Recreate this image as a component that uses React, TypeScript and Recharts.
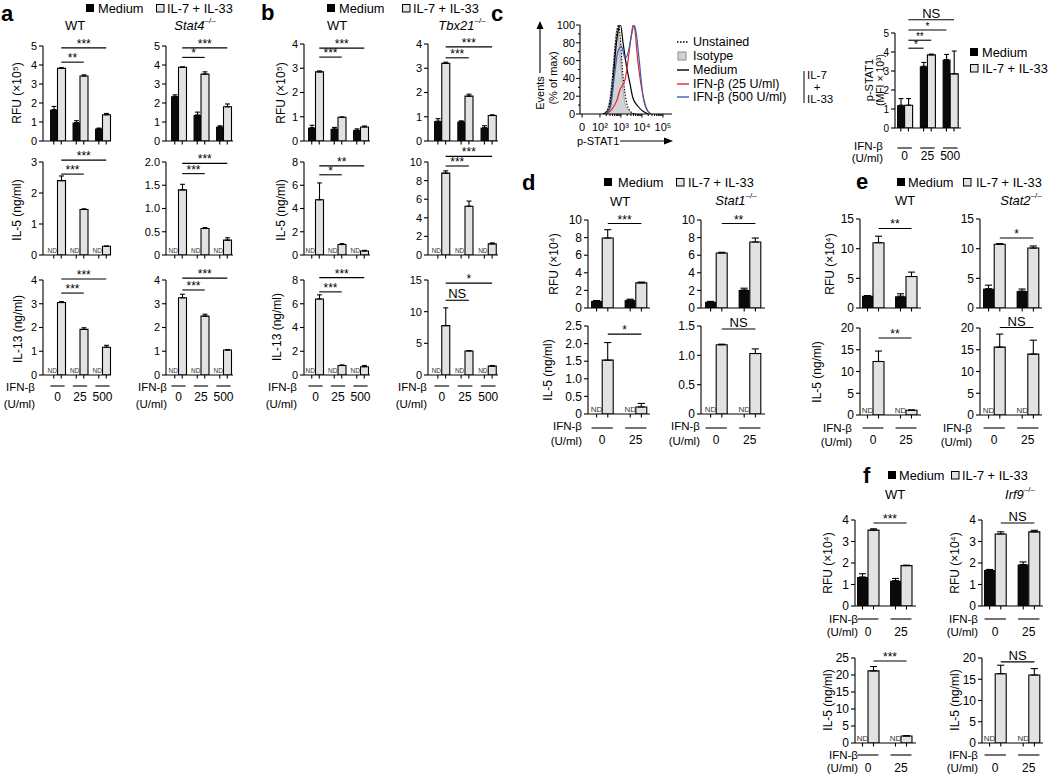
import React from "react";
import {
  BarChart, Bar, XAxis, YAxis, ErrorBar, Cell, ReferenceLine,
  ComposedChart, Line, Area,
} from "recharts";

const FONT = '"Liberation Sans", Arial, Helvetica, sans-serif';
const LIGHT = "#e2e2e2";
const RED = "#e3262e";
const BLUE = "#3d5fae";

// dose labels under the groups
const doses3 = ["0", "25", "500"];
const doses2 = ["0", "25"];
const nd3 = [null, null, null];
const nd2 = [null, null];

type Sig = [string, string, string, number];

// ---- panel a, WT ----
const aWtRfuMed = [1.65, 0.97, 0.65];
const aWtRfuMedSem = [0.17, 0.1, 0.03];
const aWtRfuIl = [3.82, 3.42, 1.38];
const aWtRfuIlSem = [0.04, 0.06, 0.07];
const aWtRfuSig: Sig[] = [["**", "l0", "l1", 4.15], ["***", "l0", "l2", 4.9]];
const aWtIl5 = [2.4, 1.47, 0.28];
const aWtIl5Sem = [0.15, 0.02, 0.01];
const aWtIl5Sig: Sig[] = [["***", "l0", "l1", 2.61], ["***", "l0", "l2", 3.06]];
const aWtIl13 = [3.05, 1.92, 1.17];
const aWtIl13Sem = [0.04, 0.07, 0.08];
const aWtIl13Sig: Sig[] = [["***", "l0", "l1", 3.45], ["***", "l0", "l2", 4.04]];

// ---- panel a, Stat4-/- ----
const aS4RfuMed = [2.35, 1.37, 0.75];
const aS4RfuMedSem = [0.08, 0.15, 0.05];
const aS4RfuIl = [3.88, 3.52, 1.8];
const aS4RfuIlSem = [0.02, 0.12, 0.15];
const aS4RfuSig: Sig[] = [["*", "l0", "l1", 4.4], ["***", "l0", "l2", 4.9]];
const aS4Il5 = [1.4, 0.57, 0.32];
const aS4Il5Sem = [0.12, 0.02, 0.05];
const aS4Il5Sig: Sig[] = [["***", "l0", "l1", 1.75], ["***", "l0", "l2", 1.97]];
const aS4Il13 = [3.25, 2.48, 1.05];
const aS4Il13Sem = [0.15, 0.08, 0.02];
const aS4Il13Sig: Sig[] = [["***", "l0", "l1", 3.58], ["***", "l0", "l2", 4.08]];

// ---- panel b, WT ----
const bWtRfuMed = [0.55, 0.5, 0.45];
const bWtRfuMedSem = [0.1, 0.06, 0.05];
const bWtRfuIl = [2.85, 0.98, 0.58];
const bWtRfuIlSem = [0.04, 0.01, 0.04];
const bWtRfuSig: Sig[] = [["***", "l0", "l1", 3.46], ["***", "l0", "l2", 3.83]];
const bWtIl5 = [4.75, 0.9, 0.35];
const bWtIl5Sem = [1.45, 0.08, 0.05];
const bWtIl5Sig: Sig[] = [["*", "l0", "l1", 6.9], ["**", "l0", "l2", 7.67]];
const bWtIl13 = [6.4, 0.8, 0.7];
const bWtIl13Sem = [0.35, 0.05, 0.1];
const bWtIl13Sig: Sig[] = [["***", "l0", "l1", 7.0], ["***", "l0", "l2", 8.2]];

// ---- panel b, Tbx21-/- ----
const bTbRfuMed = [0.82, 0.8, 0.55];
const bTbRfuMedSem = [0.1, 0.03, 0.08];
const bTbRfuIl = [3.2, 1.85, 1.05];
const bTbRfuIlSem = [0.05, 0.08, 0.03];
const bTbRfuSig: Sig[] = [["***", "l0", "l1", 3.43], ["***", "l0", "l2", 3.88]];
const bTbIl5 = [8.8, 5.25, 1.2];
const bTbIl5Sem = [0.25, 0.55, 0.1];
const bTbIl5Sig: Sig[] = [["***", "l0", "l1", 9.57], ["***", "l0", "l2", 10.6]];
const bTbIl13 = [7.8, 3.8, 1.4];
const bTbIl13Sem = [2.8, 0.05, 0.1];
const bTbIl13Sig: Sig[] = [["NS", "l0", "l1", 11.8], ["*", "l0", "l2", 14.5]];

// ---- panel c, p-STAT1 MFI ----
const cMed = [1.2, 3.25, 3.6];
const cMedSem = [0.35, 0.2, 0.27];
const cIl = [1.2, 3.85, 2.85];
const cIlSem = [0.35, 0.04, 1.2];
const cSig: Sig[] = [["*", "l0", "m1", 4.2], ["**", "l0", "l1", 4.62], ["*", "l0", "m2", 5.16], ["NS", "l0", "l2", 5.7]];

// ---- panel c, histogram (decade position, % of max) ----
const hIsotype = [[1.1, 0], [1.3, 3], [1.45, 15], [1.6, 45], [1.72, 80], [1.82, 97], [1.9, 85], [2.0, 55], [2.1, 28], [2.2, 12], [2.35, 4], [2.5, 1], [2.7, 0]];
const hUnstained = [[1.15, 0], [1.35, 4], [1.5, 18], [1.65, 55], [1.78, 88], [1.88, 100], [1.97, 85], [2.07, 50], [2.18, 25], [2.3, 10], [2.45, 3], [2.65, 0]];
const hMedium = [[1.2, 0], [1.45, 6], [1.6, 30], [1.75, 72], [1.88, 95], [1.98, 100], [2.1, 80], [2.27, 53], [2.43, 34], [2.57, 18], [2.8, 9], [3.05, 3], [3.3, 0]];
const hIfn25 = [[1.3, 0], [1.55, 5], [1.8, 15], [1.95, 27], [2.19, 38], [2.38, 68], [2.5, 90], [2.58, 100], [2.68, 92], [2.75, 72], [2.88, 45], [3.0, 27], [3.19, 8], [3.4, 0]];
const hIfn500 = [[1.25, 0], [1.5, 8], [1.7, 45], [1.85, 70], [2.03, 76], [2.2, 62], [2.35, 70], [2.5, 88], [2.62, 100], [2.72, 92], [2.85, 65], [3.05, 20], [3.25, 4], [3.45, 0]];
const hMajorTicks = [0.15, 1, 2, 3, 4];
const hMajorLabels = ["0", "10²", "10³", "10⁴", "10⁵"];

// ---- panel d ----
const dWtRfuMed = [0.8, 0.9];
const dWtRfuMedSem = [0.05, 0.1];
const dWtRfuIl = [7.95, 2.85];
const dWtRfuIlSem = [0.95, 0.1];
const dWtRfuSig: Sig[] = [["***", "l0", "l1", 9.6]];
const dWtIl5 = [1.53, 0.2];
const dWtIl5Sem = [0.5, 0.1];
const dWtIl5Sig: Sig[] = [["*", "l0", "l1", 2.27]];
const dS1RfuMed = [0.7, 2.05];
const dS1RfuMedSem = [0.05, 0.2];
const dS1RfuIl = [6.25, 7.5];
const dS1RfuIlSem = [0.08, 0.45];
const dS1RfuSig: Sig[] = [["**", "l0", "l1", 9.6]];
const dS1Il5 = [1.18, 1.03];
const dS1Il5Sem = [0.01, 0.08];
const dS1Il5Sig: Sig[] = [["NS", "l0", "l1", 1.45]];

// ---- panel e ----
const eWtRfuMed = [2.05, 2.0];
const eWtRfuMedSem = [0.05, 0.4];
const eWtRfuIl = [11.0, 5.3];
const eWtRfuIlSem = [1.1, 0.75];
const eWtRfuSig: Sig[] = [["**", "l0", "l1", 13.4]];
const eWtIl5 = [12.3, 1.1];
const eWtIl5Sem = [2.4, 0.05];
const eWtIl5Sig: Sig[] = [["**", "l0", "l1", 17.7]];
const eS2RfuMed = [3.25, 2.85];
const eS2RfuMedSem = [0.6, 0.35];
const eS2RfuIl = [10.75, 10.1];
const eS2RfuIlSem = [0.1, 0.35];
const eS2RfuSig: Sig[] = [["*", "l0", "l1", 11.8]];
const eS2Il5 = [15.6, 14.0];
const eS2Il5Sem = [3.0, 3.2];
const eS2Il5Sig: Sig[] = [["NS", "l0", "l1", 20.1]];

// ---- panel f ----
const fWtRfuMed = [1.35, 1.18];
const fWtRfuMedSem = [0.15, 0.1];
const fWtRfuIl = [3.53, 1.88];
const fWtRfuIlSem = [0.06, 0.02];
const fWtRfuSig: Sig[] = [["***", "l0", "l1", 3.86]];
const fWtIl5 = [21.2, 2.05];
const fWtIl5Sem = [1.3, 0.1];
const fWtIl5Sig: Sig[] = [["***", "l0", "l1", 24.1]];
const fIrRfuMed = [1.68, 1.93];
const fIrRfuMedSem = [0.02, 0.12];
const fIrRfuIl = [3.35, 3.45];
const fIrRfuIlSem = [0.1, 0.07];
const fIrRfuSig: Sig[] = [["NS", "l0", "l1", 3.86]];
const fIrIl5 = [16.3, 16.0];
const fIrIl5Sem = [2.0, 1.5];
const fIrIl5Sig: Sig[] = [["NS", "l0", "l1", 19.1]];

type Sub = {
  x0: number; right: number; bx: number; sw: number; top: number; bottom: number;
  max: number; ticks: number[]; dec?: boolean; fs?: number; nds?: number; ndDx?: number; sigFs?: number;
  med: (number | null)[]; medSem: (number | null)[]; il: number[]; ilSem: number[]; sig: Sig[];
  doses?: string[]; lineDy?: number; numDy?: number;
};

const colAWt = { x0: 43, right: 111, bx: 50, sw: 7.5 };
const colAS4 = { x0: 166, right: 233, bx: 171, sw: 7.5 };
const colBWt = { x0: 304, right: 370, bx: 308, sw: 7.5 };
const colBTb = { x0: 428, right: 498, bx: 434, sw: 7.75 };
const rowRfuA = { top: 46, bottom: 141 };
const rowRfuB = { top: 44, bottom: 141 };
const rowIl5Ab = { top: 162, bottom: 255 };
const rowIl13Ab = { top: 280, bottom: 375, doses: doses3, lineDy: 11, numDy: 22 };
const smallAb = { fs: 11, nds: 6.5, ndDx: -1.5 };
const colDWt = { x0: 588, right: 650, bx: 591, sw: 11.2 };
const colDS1 = { x0: 701, right: 765, bx: 705, sw: 11.2 };
const colEWt = { x0: 860, right: 921, bx: 862, sw: 11 };
const colES2 = { x0: 980, right: 1042, bx: 983, sw: 11.2 };
const colFWt = { x0: 855, right: 916, bx: 857, sw: 11 };
const colFIr = { x0: 982, right: 1043, bx: 984, sw: 11.2 };
const big = { fs: 12, nds: 8, ndDx: 0 };

const subs: Sub[] = [
  { ...colAWt, ...rowRfuA, ...smallAb, max: 5, ticks: [0, 1, 2, 3, 4, 5], med: aWtRfuMed, medSem: aWtRfuMedSem, il: aWtRfuIl, ilSem: aWtRfuIlSem, sig: aWtRfuSig },
  { ...colAWt, ...rowIl5Ab, ...smallAb, max: 3, ticks: [0, 1, 2, 3], med: nd3, medSem: nd3, il: aWtIl5, ilSem: aWtIl5Sem, sig: aWtIl5Sig },
  { ...colAWt, ...rowIl13Ab, ...smallAb, max: 4, ticks: [0, 1, 2, 3, 4], med: nd3, medSem: nd3, il: aWtIl13, ilSem: aWtIl13Sem, sig: aWtIl13Sig },
  { ...colAS4, ...rowRfuA, ...smallAb, max: 5, ticks: [0, 1, 2, 3, 4, 5], med: aS4RfuMed, medSem: aS4RfuMedSem, il: aS4RfuIl, ilSem: aS4RfuIlSem, sig: aS4RfuSig },
  { ...colAS4, ...rowIl5Ab, ...smallAb, max: 2, dec: true, ticks: [0, 0.5, 1, 1.5, 2], med: nd3, medSem: nd3, il: aS4Il5, ilSem: aS4Il5Sem, sig: aS4Il5Sig },
  { ...colAS4, ...rowIl13Ab, ...smallAb, max: 4, ticks: [0, 1, 2, 3, 4], med: nd3, medSem: nd3, il: aS4Il13, ilSem: aS4Il13Sem, sig: aS4Il13Sig },
  { ...colBWt, ...rowRfuB, ...smallAb, max: 4, ticks: [0, 1, 2, 3, 4], med: bWtRfuMed, medSem: bWtRfuMedSem, il: bWtRfuIl, ilSem: bWtRfuIlSem, sig: bWtRfuSig },
  { ...colBWt, ...rowIl5Ab, ...smallAb, max: 8, ticks: [0, 2, 4, 6, 8], med: nd3, medSem: nd3, il: bWtIl5, ilSem: bWtIl5Sem, sig: bWtIl5Sig },
  { ...colBWt, ...rowIl13Ab, ...smallAb, max: 8, ticks: [0, 2, 4, 6, 8], med: nd3, medSem: nd3, il: bWtIl13, ilSem: bWtIl13Sem, sig: bWtIl13Sig },
  { ...colBTb, ...rowRfuB, ...smallAb, max: 4, ticks: [0, 1, 2, 3, 4], med: bTbRfuMed, medSem: bTbRfuMedSem, il: bTbRfuIl, ilSem: bTbRfuIlSem, sig: bTbRfuSig },
  { ...colBTb, ...rowIl5Ab, ...smallAb, max: 10, ticks: [0, 2, 4, 6, 8, 10], med: nd3, medSem: nd3, il: bTbIl5, ilSem: bTbIl5Sem, sig: bTbIl5Sig },
  { ...colBTb, ...rowIl13Ab, ...smallAb, max: 15, ticks: [0, 5, 10, 15], med: nd3, medSem: nd3, il: bTbIl13, ilSem: bTbIl13Sem, sig: bTbIl13Sig },
  { x0: 895, right: 961, bx: 897, sw: 7.6, top: 33, bottom: 128, fs: 10, nds: 7, sigFs: 10, max: 5, ticks: [0, 1, 2, 3, 4, 5], med: cMed, medSem: cMedSem, il: cIl, ilSem: cIlSem, sig: cSig, doses: doses3, lineDy: 20, numDy: 28 },
  { ...colDWt, ...big, top: 220, bottom: 308, max: 10, ticks: [0, 2, 4, 6, 8, 10], med: dWtRfuMed, medSem: dWtRfuMedSem, il: dWtRfuIl, ilSem: dWtRfuIlSem, sig: dWtRfuSig },
  { ...colDWt, ...big, top: 326, bottom: 414, max: 2.5, dec: true, ticks: [0, 0.5, 1, 1.5, 2, 2.5], med: nd2, medSem: nd2, il: dWtIl5, ilSem: dWtIl5Sem, sig: dWtIl5Sig, doses: doses2, lineDy: 14, numDy: 26 },
  { ...colDS1, ...big, top: 220, bottom: 308, max: 10, ticks: [0, 2, 4, 6, 8, 10], med: dS1RfuMed, medSem: dS1RfuMedSem, il: dS1RfuIl, ilSem: dS1RfuIlSem, sig: dS1RfuSig },
  { ...colDS1, ...big, top: 326, bottom: 414, max: 1.5, dec: true, ticks: [0, 0.5, 1, 1.5], med: nd2, medSem: nd2, il: dS1Il5, ilSem: dS1Il5Sem, sig: dS1Il5Sig, doses: doses2, lineDy: 14, numDy: 26 },
  { ...colEWt, ...big, top: 219, bottom: 308, max: 15, ticks: [0, 5, 10, 15], med: eWtRfuMed, medSem: eWtRfuMedSem, il: eWtRfuIl, ilSem: eWtRfuIlSem, sig: eWtRfuSig },
  { ...colEWt, ...big, top: 328, bottom: 415, max: 20, ticks: [0, 5, 10, 15, 20], med: nd2, medSem: nd2, il: eWtIl5, ilSem: eWtIl5Sem, sig: eWtIl5Sig, doses: doses2, lineDy: 13, numDy: 25 },
  { ...colES2, ...big, top: 219, bottom: 308, max: 15, ticks: [0, 5, 10, 15], med: eS2RfuMed, medSem: eS2RfuMedSem, il: eS2RfuIl, ilSem: eS2RfuIlSem, sig: eS2RfuSig },
  { ...colES2, ...big, top: 328, bottom: 415, max: 20, ticks: [0, 5, 10, 15, 20], med: nd2, medSem: nd2, il: eS2Il5, ilSem: eS2Il5Sem, sig: eS2Il5Sig, doses: doses2, lineDy: 13, numDy: 25 },
  { ...colFWt, ...big, top: 520, bottom: 606, max: 4, ticks: [0, 1, 2, 3, 4], med: fWtRfuMed, medSem: fWtRfuMedSem, il: fWtRfuIl, ilSem: fWtRfuIlSem, sig: fWtRfuSig, doses: doses2, lineDy: 13, numDy: 26 },
  { ...colFWt, ...big, top: 658, bottom: 743, max: 25, ticks: [0, 5, 10, 15, 20, 25], med: nd2, medSem: nd2, il: fWtIl5, ilSem: fWtIl5Sem, sig: fWtIl5Sig, doses: doses2, lineDy: 12, numDy: 25 },
  { ...colFIr, ...big, top: 520, bottom: 606, max: 4, ticks: [0, 1, 2, 3, 4], med: fIrRfuMed, medSem: fIrRfuMedSem, il: fIrRfuIl, ilSem: fIrRfuIlSem, sig: fIrRfuSig, doses: doses2, lineDy: 13, numDy: 26 },
  { ...colFIr, ...big, top: 658, bottom: 743, max: 20, ticks: [0, 5, 10, 15, 20], med: nd2, medSem: nd2, il: fIrIl5, ilSem: fIrIl5Sem, sig: fIrIl5Sig, doses: doses2, lineDy: 12, numDy: 25 },
];

function buildRows(s: Sub) {
  const rows: any[] = [];
  s.il.forEach((v, g) => {
    if (g > 0) rows.push({ k: `g${g}`, v: null, err: null, kind: "g" });
    const m = s.med[g];
    rows.push({ k: `m${g}`, v: m ?? 0, err: m == null ? null : [0, s.medSem[g] ?? 0], kind: "m" });
    rows.push({ k: `l${g}`, v, err: [0, s.ilSem[g]], kind: "l" });
  });
  return rows;
}

// x-axis tick: small mark under each bar, "ND" for undetected medium bars, dose rule + label
const xTick = (s: Sub) => (p: any) => {
  const k: string = String(p.payload?.value ?? "");
  const { x, y } = p;
  if (k[0] === "g") return <g />;
  const g = Number(k.slice(1));
  const ly = y + (s.lineDy ?? 13);
  const isNd = k[0] === "m" && s.med[g] == null;
  return (
    <g>
      <line x1={x} x2={x} y1={y} y2={y + 3.5} stroke="#000" strokeWidth={1.1} />
      {isNd && (
        <text x={x + (s.ndDx ?? 0)} y={y - 2} textAnchor="middle" fontSize={s.nds ?? 7} fill="#333">ND</text>
      )}
      {s.doses && k[0] === "m" && (
        <g>
          <line x1={x - s.sw * 0.45} x2={x + s.sw * 1.45} y1={ly} y2={ly} stroke="#000" strokeWidth={1.1} />
          <text x={x + s.sw / 2} y={y + (s.numDy ?? 25)} textAnchor="middle" dominantBaseline="central" fontSize={12} fill="#000">
            {s.doses[g]}
          </text>
        </g>
      )}
    </g>
  );
};

function MiniBar({ s }: { s: Sub }) {
  const YW = 34, MT = 34, MR = 4, XH = 40;
  const data = buildRows(s);
  const W = s.right - s.x0;
  const H = s.bottom - s.top;
  const padL = s.bx - s.x0;
  const padR = Math.max(0, W - padL - data.length * s.sw);
  const fmt = (v: number) => (v === 0 ? "0" : s.dec ? v.toFixed(1) : String(v));
  return (
    <div style={{ position: "absolute", left: s.x0 - YW, top: s.top - MT }}>
      <BarChart width={YW + W + MR} height={MT + H + XH} data={data} margin={{ top: MT, right: MR, bottom: 0, left: 0 }} barCategoryGap={0}>
        <XAxis dataKey="k" type="category" padding={{ left: padL, right: padR }} height={XH} interval={0}
          tickLine={false} tickSize={0} tickMargin={0} axisLine={{ stroke: "#000", strokeWidth: 1.1 }} tick={xTick(s)} />
        <YAxis type="number" domain={[0, s.max]} ticks={s.ticks} allowDataOverflow width={YW} interval={0}
          tickSize={4} tickMargin={2} tickFormatter={fmt}
          tick={{ fontSize: s.fs ?? 11, fill: "#000" }}
          axisLine={{ stroke: "#000", strokeWidth: 1.1 }} tickLine={{ stroke: "#000", strokeWidth: 1.1 }} />
        <Bar dataKey="v" isAnimationActive={false}>
          {data.map((r, i) => (
            <Cell key={i} fill={r.kind === "m" ? "#0a0a0a" : LIGHT} stroke="#000" strokeWidth={r.kind === "l" ? 1.1 : 0} />
          ))}
          <ErrorBar dataKey="err" width={s.sw * 0.32} stroke="#000" strokeWidth={1.1} direction="y" />
        </Bar>
        {s.sig.map(([lab, a, b, lv], i) => (
          <ReferenceLine key={i} segment={[{ x: a, y: lv }, { x: b, y: lv }]} stroke="#000" strokeWidth={1.1}
            ifOverflow="visible"
            label={{ value: lab, position: "top", offset: lab === "NS" ? 2 : 0, fontSize: lab === "NS" ? 13 : s.sigFs ?? 12, fill: "#000" }} />
        ))}
      </BarChart>
    </div>
  );
}

const toPts = (arr: number[][]) => arr.map(([x, y]) => ({ x, y }));
const hMinor: number[] = [1, 2, 3].flatMap((d) => [2, 3, 4, 5, 6, 7, 8, 9].map((k) => d + Math.log10(k)));

function Histogram() {
  const x0 = 580, right = 672, top = 25, bottom = 114;
  const YW = 30, MT = 6, MR = 4, XH = 22;
  const xt = (p: any) => {
    const v = p.payload?.value;
    const mi = hMajorTicks.indexOf(v);
    return (
      <g>
        <line x1={p.x} x2={p.x} y1={p.y} y2={p.y + (mi >= 0 ? 3.5 : 2)} stroke="#000" strokeWidth={1} />
        {mi >= 0 && (
          <text x={p.x} y={p.y + 13} textAnchor="middle" dominantBaseline="central" fontSize={11} fill="#000">
            {hMajorLabels[mi]}
          </text>
        )}
      </g>
    );
  };
  const yt = (p: any) => {
    const v = p.payload?.value;
    const major = v % 20 === 0;
    return (
      <g>
        <line x1={p.x} x2={p.x - (major ? 4 : 2)} y1={p.y} y2={p.y} stroke="#000" strokeWidth={1} />
        {major && (
          <text x={p.x - 5} y={p.y} textAnchor="end" dominantBaseline="central" fontSize={11} fill="#000">{v}</text>
        )}
      </g>
    );
  };
  return (
    <div style={{ position: "absolute", left: x0 - YW, top: top - MT }}>
      <ComposedChart width={YW + right - x0 + MR} height={MT + bottom - top + XH} margin={{ top: MT, right: MR, bottom: 0, left: 0 }}>
        <XAxis type="number" dataKey="x" domain={[0.05, 4.43]} allowDataOverflow ticks={[...hMajorTicks, ...hMinor]} interval={0}
          tickLine={false} tickSize={0} tickMargin={0} tick={xt} height={XH} axisLine={{ stroke: "#000", strokeWidth: 1.1 }} />
        <YAxis type="number" domain={[0, 100]} ticks={[0, 10, 20, 30, 40, 50, 60, 70, 80, 90, 100]} interval={0} allowDataOverflow
          tickLine={false} tickSize={0} tickMargin={0} tick={yt} width={YW} axisLine={{ stroke: "#000", strokeWidth: 1.1 }} />
        <Area data={toPts(hIsotype)} dataKey="y" type="monotone" fill="#d3d3d3" fillOpacity={1} stroke="#9a9a9a" strokeWidth={0.8} isAnimationActive={false} />
        <Line data={toPts(hUnstained)} dataKey="y" type="monotone" stroke="#000" strokeWidth={1.1} strokeDasharray="1.6 1.4" dot={false} isAnimationActive={false} />
        <Line data={toPts(hMedium)} dataKey="y" type="monotone" stroke="#000" strokeWidth={1.2} dot={false} isAnimationActive={false} />
        <Line data={toPts(hIfn25)} dataKey="y" type="monotone" stroke={RED} strokeWidth={1.2} dot={false} isAnimationActive={false} />
        <Line data={toPts(hIfn500)} dataKey="y" type="monotone" stroke={BLUE} strokeWidth={1.2} dot={false} isAnimationActive={false} />
      </ComposedChart>
    </div>
  );
}

// ---- text overlay positions ----
const letters = [
  { t: "a", x: 1, y: 21 }, { t: "b", x: 261, y: 20 }, { t: "c", x: 491, y: 21 },
  { t: "d", x: 522, y: 190 }, { t: "e", x: 856, y: 189 }, { t: "f", x: 863, y: 483 },
];
const legends = [
  { m: 86, mt: 98, l: 156, lt: 167, y: 8 },
  { m: 327, mt: 339, l: 402, lt: 413, y: 8 },
  { m: 604, mt: 618, l: 676, lt: 688, y: 182 },
  { m: 897, mt: 908, l: 963, lt: 976, y: 182 },
  { m: 888, mt: 899, l: 951, lt: 962, y: 475 },
];
const titles: { x: number; y: number; t?: string; g?: string }[] = [
  { x: 75, y: 25, t: "WT" }, { x: 195, y: 25, g: "Stat4" }, { x: 337, y: 25, t: "WT" }, { x: 462, y: 25, g: "Tbx21" },
  { x: 620, y: 201, t: "WT" }, { x: 736, y: 200, g: "Stat1" }, { x: 905, y: 200, t: "WT" }, { x: 1021, y: 200, g: "Stat2" },
  { x: 895, y: 494, t: "WT" }, { x: 1020, y: 494, g: "Irf9" },
];
const yLabels = [
  { x: 17, y: 93, t: "RFU (×10⁵)", f: 12 }, { x: 17, y: 210, t: "IL-5 (ng/ml)", f: 12 }, { x: 18, y: 329, t: "IL-13 (ng/ml)", f: 12 },
  { x: 281, y: 93, t: "RFU (×10⁵)", f: 12 }, { x: 281, y: 210, t: "IL-5 (ng/ml)", f: 12 }, { x: 277, y: 327, t: "IL-13 (ng/ml)", f: 12 },
  { x: 869, y: 80, t: "p-STAT1", f: 11 }, { x: 880, y: 80, t: "(MFI × 10³)", f: 10.5 },
  { x: 554, y: 264, t: "RFU (×10⁴)", f: 12 }, { x: 548, y: 370, t: "IL-5 (ng/ml)", f: 12 },
  { x: 830, y: 264, t: "RFU (×10⁴)", f: 12 }, { x: 817, y: 372, t: "IL-5 (ng/ml)", f: 12 },
  { x: 828, y: 563, t: "RFU (×10⁴)", f: 12 }, { x: 828, y: 700, t: "IL-5 (ng/ml)", f: 12 },
  { x: 955, y: 563, t: "RFU (×10⁴)", f: 12 }, { x: 955, y: 700, t: "IL-5 (ng/ml)", f: 12 },
];
const ifnLabels = [
  { x: 35, y1: 387, y2: 404 }, { x: 167, y1: 387, y2: 404 }, { x: 297, y1: 387, y2: 404 }, { x: 427, y1: 387, y2: 404 },
  { x: 883, y1: 146, y2: 157.5 }, { x: 582, y1: 426, y2: 441 }, { x: 700, y1: 426, y2: 441 },
  { x: 852, y1: 428, y2: 442 }, { x: 972, y1: 428, y2: 442 },
  { x: 858, y1: 619, y2: 632 }, { x: 858, y1: 755, y2: 768 }, { x: 978, y1: 619, y2: 632 }, { x: 978, y1: 755, y2: 768 },
];
const histLegend = [
  { t: "Unstained", y: 42, kind: "dot" }, { t: "Isotype", y: 56, kind: "box" }, { t: "Medium", y: 70, kind: "black" },
  { t: "IFN-β (25 U/ml)", y: 84, kind: "red" }, { t: "IFN-β (500 U/ml)", y: 97, kind: "blue" },
];

function Overlay() {
  const tp = { fill: "#000", dominantBaseline: "central" as const };
  return (
    <svg width={1050} height={778} style={{ position: "absolute", left: 0, top: 0 }}>
      {letters.map((l) => (
        <text key={l.t} x={l.x} y={l.y} fontSize={22} fontWeight="bold" fill="#000">{l.t}</text>
      ))}
      {legends.map((g, i) => (
        <g key={i}>
          <rect x={g.m} y={g.y - 4} width={8} height={8} fill="#000" />
          <text x={g.mt} y={g.y} fontSize={12.8} {...tp}>Medium</text>
          <rect x={g.l + 0.5} y={g.y - 3.5} width={7.5} height={7.5} fill={LIGHT} stroke="#000" strokeWidth={1} />
          <text x={g.lt} y={g.y} fontSize={12.8} {...tp}>IL-7 + IL-33</text>
        </g>
      ))}
      <rect x={970} y={48} width={8} height={8} fill="#000" />
      <text x={982} y={52} fontSize={12.8} {...tp}>Medium</text>
      <rect x={970.5} y={64.5} width={7.5} height={7.5} fill={LIGHT} stroke="#000" strokeWidth={1} />
      <text x={982} y={68} fontSize={12.8} {...tp}>IL-7 + IL-33</text>
      {titles.map((t, i) => (
        <text key={i} x={t.x} y={t.y} fontSize={13} textAnchor="middle" {...tp}>
          {t.t}
          {t.g && <tspan fontStyle="italic">{t.g}</tspan>}
          {t.g && <tspan fontSize={8} dy={-5}>–/–</tspan>}
        </text>
      ))}
      {yLabels.map((l, i) => (
        <text key={i} transform={`translate(${l.x},${l.y}) rotate(-90)`} fontSize={l.f} textAnchor="middle" {...tp}>{l.t}</text>
      ))}
      {ifnLabels.map((l, i) => (
        <g key={i}>
          <text x={l.x} y={l.y1} fontSize={11.5} textAnchor="end" {...tp}>IFN-β</text>
          <text x={l.x} y={l.y2} fontSize={11.5} textAnchor="end" {...tp}>(U/ml)</text>
        </g>
      ))}
      {/* histogram axis titles */}
      <text transform="translate(540,93) rotate(-90)" fontSize={11} textAnchor="middle" {...tp}>Events</text>
      <line x1={540} x2={540} y1={73} y2={28} stroke="#000" strokeWidth={1.1} />
      <polygon points="540,21 536.5,29 543.5,29" fill="#000" />
      <text transform="translate(553,78) rotate(-90)" fontSize={11} textAnchor="middle" {...tp}>(% of max)</text>
      <text x={577} y={141} fontSize={11} {...tp}>p-STAT1</text>
      <line x1={620} x2={665} y1={141} y2={141} stroke="#000" strokeWidth={1.1} />
      <polygon points="673,141 664,137.5 664,144.5" fill="#000" />
      {histLegend.map((h, i) => (
        <g key={i}>
          {h.kind === "box" ? (
            <rect x={678} y={h.y - 4} width={8} height={8} fill="#d3d3d3" stroke="#8a8a8a" strokeWidth={1} />
          ) : (
            <line x1={677} x2={689} y1={h.y} y2={h.y}
              stroke={h.kind === "red" ? RED : h.kind === "blue" ? BLUE : "#000"}
              strokeWidth={1.4} strokeDasharray={h.kind === "dot" ? "1.5 1.5" : undefined} />
          )}
          <text x={693} y={h.y} fontSize={12.5} {...tp}>{h.t}</text>
        </g>
      ))}
      <line x1={804} x2={804} y1={71} y2={103} stroke="#000" strokeWidth={1} />
      <text x={807} y={75} fontSize={11.5} {...tp}>IL-7</text>
      <text x={817} y={87} fontSize={11.5} textAnchor="middle" {...tp}>+</text>
      <text x={807} y={99} fontSize={11.5} {...tp}>IL-33</text>
    </svg>
  );
}

export default function App() {
  return (
    <div style={{ position: "absolute", left: 0, top: 0, width: 1050, height: 778, background: "#fff", fontFamily: FONT, overflow: "hidden" }}>
      <Overlay />
      <Histogram />
      {subs.map((s, i) => (
        <MiniBar key={i} s={s} />
      ))}
    </div>
  );
}
